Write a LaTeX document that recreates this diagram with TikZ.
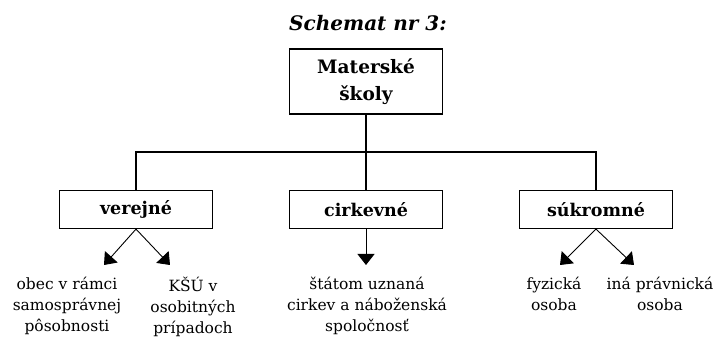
\documentclass[tikz,border=0pt]{standalone}
\usepackage{fontspec}
\setmainfont{DejaVu Serif}
\usetikzlibrary{arrows.meta}
\begin{document}
\begin{tikzpicture}[x=1pt,y=1pt,
  conn/.style={line width=1.2pt,draw=black},
  arr/.style={line width=0.9pt,draw=black,-{Triangle[length=11pt,width=17pt]}},
  topbox/.style={draw=black,line width=1.2pt,minimum width=153pt,minimum height=65pt,inner sep=0pt,align=center,font=\fontsize{18.5}{27}\selectfont\bfseries},
  catbox/.style={draw=black,line width=1.2pt,minimum width=153pt,minimum height=38pt,inner sep=0pt,font=\fontsize{17.5}{22}\selectfont\bfseries},
  leaf/.style={anchor=north,inner sep=0pt,align=center,font=\fontsize{15.5}{21}\selectfont},
  titlestyle/.style={font=\fontsize{20}{24}\selectfont\bfseries\itshape}]
\useasboundingbox (0,0) rectangle (716,338);
\node[titlestyle] (title) at (368,315) {Schemat nr 3:};
\node[topbox] (top) at (366,256.5) {Materské\\školy};
\node[catbox] (ver) at (136,128.5) {verejné};
\node[catbox] (cir) at (366,128.5) {cirkevné};
\node[catbox] (suk) at (596,128.5) {súkromné};
\coordinate (bar) at (366,186);
\draw[conn] (top.south) -- (bar);
\draw[conn] (ver.north) -- (ver.north |- bar) -- (suk.north |- bar) -- (suk.north);
\draw[conn] (bar) -- (cir.north);
\node[leaf] (t1) at (67,61) {obec v rámci\\samosprávnej\\pôsobnosti};
\node[leaf] (t2) at (193,61) {KŠÚ v\\osobitných\\prípadoch};
\node[leaf] (t3) at (367,61) {štátom uznaná\\cirkev a náboženská\\spoločnosť};
\node[leaf] (t4) at (554,61) {fyzická\\osoba};
\node[leaf] (t5) at (660,61) {iná právnická\\osoba};
\coordinate (a1) at (104,73);
\coordinate (a2) at (170,73);
\coordinate (a3) at (366,73);
\coordinate (a4) at (560,73);
\coordinate (a5) at (634,73);
\draw[arr] (ver.south) -- (a1);
\draw[arr] (ver.south) -- (a2);
\draw[arr] (cir.south) -- (a3);
\draw[arr] (suk.south) -- (a4);
\draw[arr] (suk.south) -- (a5);
\end{tikzpicture}
\end{document}
